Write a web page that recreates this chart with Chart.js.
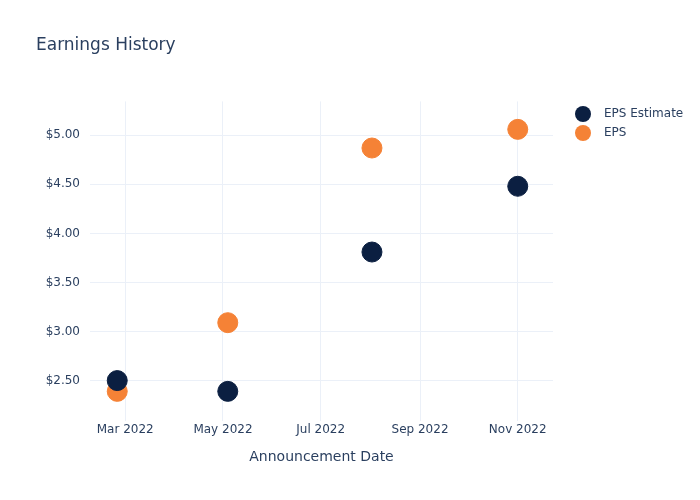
<!DOCTYPE html>
<html>
<head>
<meta charset="utf-8">
<script src="https://cdn.jsdelivr.net/npm/chart.js@4"></script>
<style>
  html, body { margin: 0; padding: 0; background: #fff; }
  #wrap { width: 700px; height: 500px; }
</style>
</head>
<body>
<div id="wrap"><canvas id="epsChart" width="700" height="500"></canvas></div>
<script>
// announcement dates and values
const announceDates = ['2022-02-24', '2022-05-04', '2022-08-02', '2022-11-01'];
const epsEstimate = [2.50, 2.39, 3.81, 4.48];
const epsActual = [2.39, 3.09, 4.87, 5.06];
const tickMonths = ['2022-03-01', '2022-05-01', '2022-07-01', '2022-09-01', '2022-11-01'];
const monthNames = ['Jan', 'Feb', 'Mar', 'Apr', 'May', 'Jun', 'Jul', 'Aug', 'Sep', 'Oct', 'Nov', 'Dec'];

const toMs = s => Date.parse(s + 'T00:00:00Z');
const textColor = '#2a3f5f';
const gridColor = '#ebf0f8';

window.onload = function() {
    // plotly-like legend on the right, below the title
    const sideLegend = {
        id: 'sideLegend',
        afterDraw: function(chart) {
            const ctx = chart.ctx;
            const x = chart.chartArea.right + 30;
            chart.data.datasets.forEach((ds, i) => {
                const y = 114 + i * 19;
                ctx.beginPath();
                ctx.arc(x, y, 8, 0, Math.PI * 2);
                ctx.fillStyle = ds.backgroundColor;
                ctx.fill();
                ctx.fillStyle = textColor;
                ctx.font = 'normal 12px "DejaVu Sans"';
                ctx.textAlign = 'left';
                ctx.textBaseline = 'middle';
                ctx.fillText(ds.label, x + 21, y);
            });
        }
    };

    const ctx = document.getElementById('epsChart').getContext('2d');
    const chart = new Chart(ctx, {
        type: 'scatter',
        data: {
            datasets: [{
                label: 'EPS Estimate',
                data: announceDates.map((d, i) => ({ x: toMs(d), y: epsEstimate[i] })),
                backgroundColor: '#0b1f41',
                borderColor: '#0b1f41',
                pointRadius: 10,
                pointHoverRadius: 10
            }, {
                label: 'EPS',
                data: announceDates.map((d, i) => ({ x: toMs(d), y: epsActual[i] })),
                backgroundColor: '#f58236',
                borderColor: '#f58236',
                pointRadius: 10,
                pointHoverRadius: 10
            }]
        },
        options: {
            responsive: false,
            animation: false,
            layout: { padding: { left: 36, right: 147, bottom: 30 } },
            font: { family: 'DejaVu Sans' },
            scales: {
                x: {
                    type: 'linear',
                    min: toMs('2022-02-07'),
                    max: toMs('2022-11-23'),
                    afterBuildTicks: axis => {
                        axis.ticks = tickMonths.map(m => ({ value: toMs(m) }));
                    },
                    ticks: {
                        color: textColor,
                        font: { family: 'DejaVu Sans', size: 12 },
                        padding: 2,
                        maxRotation: 0,
                        callback: v => {
                            const d = new Date(v);
                            return monthNames[d.getUTCMonth()] + ' ' + d.getUTCFullYear();
                        }
                    },
                    grid: { color: gridColor, drawTicks: false },
                    border: { display: false },
                    title: {
                        display: true,
                        text: 'Announcement Date',
                        color: textColor,
                        font: { family: 'DejaVu Sans', size: 14 },
                        padding: { top: 10 }
                    }
                },
                y: {
                    min: 2.09,
                    max: 5.345,
                    afterBuildTicks: axis => {
                        axis.ticks = [2.5, 3, 3.5, 4, 4.5, 5].map(v => ({ value: v }));
                    },
                    afterFit: axis => { axis.width = 54; },
                    ticks: {
                        color: textColor,
                        font: { family: 'DejaVu Sans', size: 12 },
                        padding: 10,
                        callback: v => '$' + v.toFixed(2)
                    },
                    grid: { color: gridColor, drawTicks: false },
                    border: { display: false }
                }
            },
            plugins: {
                title: {
                    display: true,
                    text: 'Earnings History',
                    align: 'start',
                    color: textColor,
                    font: { family: 'DejaVu Sans', size: 17, weight: 'normal' },
                    padding: { top: 35, bottom: 46 }
                },
                legend: { display: false },
                tooltip: { enabled: false }
            }
        },
        plugins: [sideLegend]
    });
};
</script>
</body>
</html>
